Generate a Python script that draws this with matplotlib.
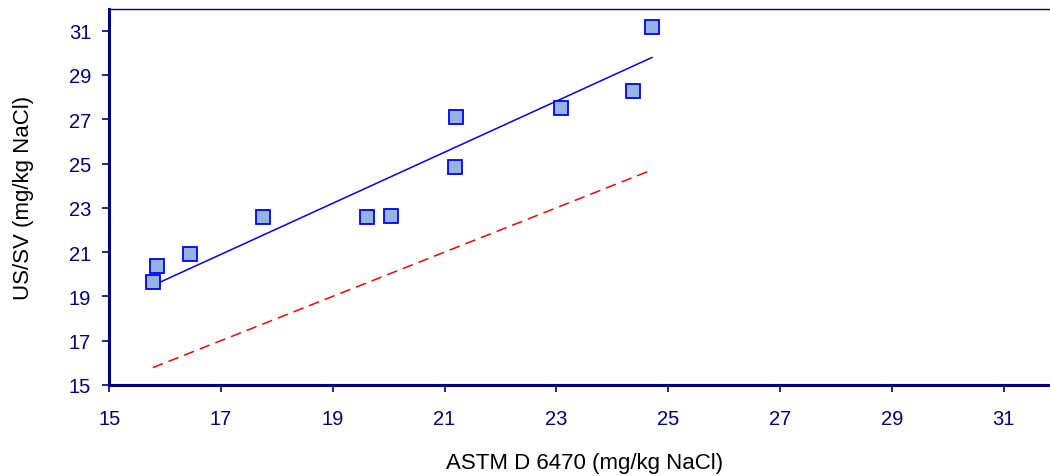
import matplotlib
matplotlib.use('Agg')
import matplotlib.pyplot as plt

plt.rcParams['font.family'] = ['Liberation Sans', 'DejaVu Sans']

# chloride results, ASTM D 6470 vs US/SV
astm = [15.78, 15.86, 16.44, 17.75, 19.61, 20.05, 21.19, 21.21, 23.08, 24.37, 24.71]
ussv = [19.67, 20.39, 20.90, 22.58, 22.58, 22.64, 24.84, 27.10, 27.51, 28.27, 31.18]

# least squares line end points
fit_x = [15.78, 24.71]
fit_y = [19.49, 29.79]

# 1:1 reference line
ref_x = [15.78, 24.71]
ref_y = [15.78, 24.71]

ticks = [15, 17, 19, 21, 23, 25, 27, 29, 31]

navy = '#000080'

fig = plt.figure(figsize=(10.5, 4.77), dpi=100)
ax = fig.add_axes([0.104, 0.191, 0.905, 0.789])

ax.plot(ref_x, ref_y, color='#FF0000', lw=1.1, dashes=(7, 4))
ax.plot(fit_x, fit_y, color='#0000FF', lw=1.1)
ax.plot(astm, ussv, ls='none', marker='s', markersize=9.5,
        markerfacecolor='#94B4E2', markeredgecolor='#0000FF', markeredgewidth=1.3)

ax.set_xlim(15, 32)
ax.set_ylim(15, 32)
ax.set_xticks(ticks)
ax.set_yticks(ticks)

for side in ['left', 'bottom']:
    ax.spines[side].set_color(navy)
    ax.spines[side].set_linewidth(2.2)
ax.spines['top'].set_color(navy)
ax.spines['top'].set_linewidth(1.0)
ax.spines['right'].set_visible(False)

ax.tick_params(direction='out', length=5, width=1.2, color=navy,
               labelcolor=navy, labelsize=14.5)
ax.tick_params(axis='x', pad=12.5)
ax.tick_params(axis='y', pad=8)

ax.set_xlabel('ASTM D 6470 (mg/kg NaCl)', fontsize=16, labelpad=17)
ax.set_ylabel('US/SV (mg/kg NaCl)', fontsize=16, labelpad=25)

fig.savefig('out.png', dpi=100)
